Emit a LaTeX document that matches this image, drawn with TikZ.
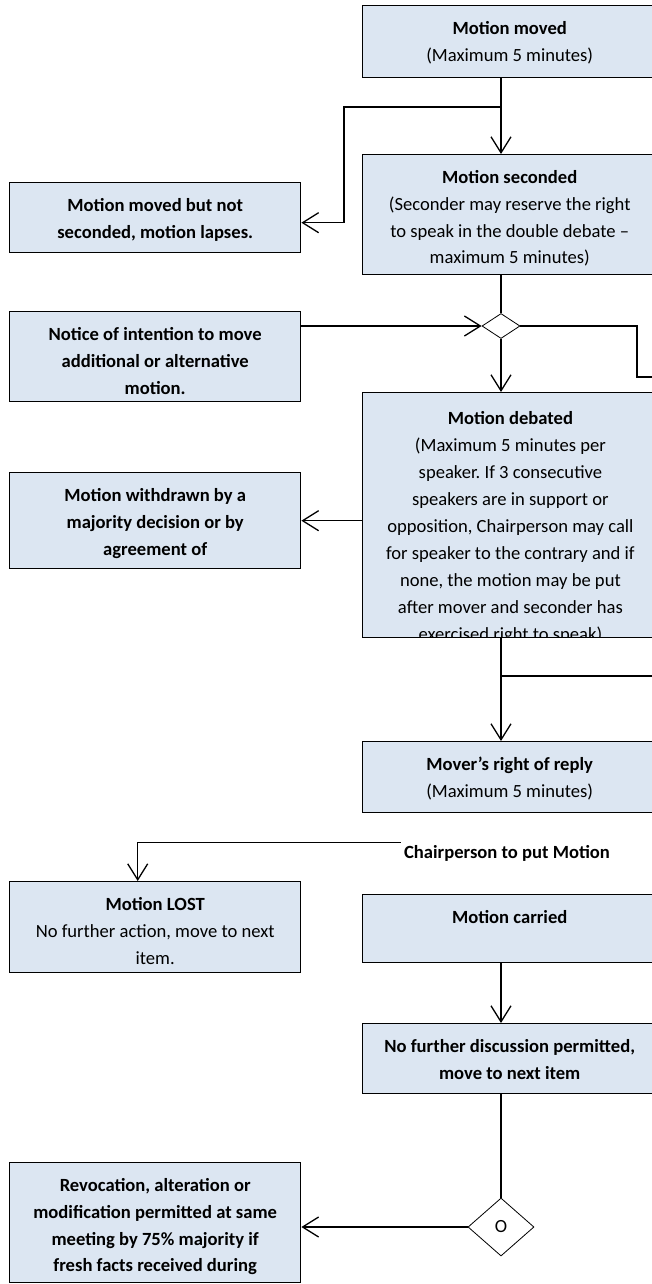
\documentclass[tikz,border=0pt]{standalone}
\usepackage{fontspec}
\setmainfont{Carlito}
\usetikzlibrary{arrows.meta,shapes.geometric}
\definecolor{boxblue}{RGB}{220,230,242}
\frenchspacing
\newcommand{\flowfont}{\fontsize{18.6}{26.7}\selectfont}
% text set from the top of a box of given size
\newcommand{\boxtext}[4][29pt]{\parbox[c][#3][t]{#2}{\centering\rule{0pt}{#1}#4}}
\tikzset{
  >={Straight Barb[length=16pt,width=20pt]},
}
\tikzstyle{every node}=[font=\flowfont]
\tikzstyle{box}=[draw,fill=boxblue,line width=1.4pt,inner sep=0pt,anchor=north west]
\tikzstyle{choice}=[draw,diamond,fill=white,line width=0.8pt,inner sep=0pt]
\tikzstyle{link}=[line width=1.3pt]

\begin{document}
\begin{tikzpicture}[x=1pt,y=-1pt]
    \useasboundingbox (0,0) rectangle (652,1284);
    \clip (0,0) rectangle (652,1284);

    % right column
    \node[box] (moved) at (362,5)
    {\boxtext{294pt}{72pt}{\textbf{Motion moved}\\(Maximum 5 minutes)}};
    \node[box] (seconded) at (362,154)
    {\boxtext{294pt}{120pt}{\textbf{Motion seconded}\\(Seconder may reserve the right\\to speak in the double debate --\\maximum 5 minutes)}};
    \node[choice,minimum width=38pt,minimum height=25pt] (dec1) at (501,326) {};
    \node[box,minimum width=294pt,minimum height=245pt,
      path picture={\node[anchor=north west,inner sep=0pt,font=\fontsize{18.6}{27}\selectfont]
      at (path picture bounding box.north west)
      {\boxtext[31pt]{294pt}{245pt}{\textbf{Motion debated}\\(Maximum 5 minutes per\\speaker. If 3 consecutive\\speakers are in support or\\opposition, Chairperson may call\\for speaker to the contrary and if\\none, the motion may be put\\after mover and seconder has\\exercised right to speak)}};}]
    (debated) at (362,392) {};
    \node[box] (mover) at (362,741)
    {\boxtext{294pt}{71pt}{\textbf{Mover’s right of reply}\\(Maximum 5 minutes)}};
    \node (chair) at (507,853) {\bfseries Chairperson to put Motion};
    \node[box] (carried) at (362,894)
    {\boxtext{294pt}{68pt}{\bfseries Motion carried}};
    \node[box] (nofurther) at (362,1023)
    {\boxtext{294pt}{70pt}{\bfseries No further discussion permitted,\\move to next item}};
    \node[choice,minimum width=66pt,minimum height=58pt] (dec2) at (501,1227) {O};

    % left column
    \node[box] (notseconded) at (9,182)
    {\boxtext{291pt}{70pt}{\bfseries Motion moved but not\\seconded, motion lapses.}};
    \node[box] (notice) at (9,311)
    {\boxtext{291pt}{90pt}{\bfseries Notice of intention to move\\additional or alternative\\motion.}};
    \node[box] (withdrawn) at (9,472)
    {\boxtext{291pt}{96pt}{\bfseries Motion withdrawn by a\\majority decision or by\\agreement of}};
    \node[box] (lost) at (9,881)
    {\boxtext{291pt}{91pt}{\textbf{Motion LOST}\\No further action, move to next\\item.}};
    \node[box] (revocation) at (9,1162)
    {\boxtext{291pt}{120pt}{\bfseries Revocation, alteration or\\modification permitted at same\\meeting by 75\% majority if\\fresh facts received during}};

    \coordinate (spine) at (501,0);
    \coordinate (split1) at (501,107);
    \coordinate (split2) at (501,676);
    \coordinate (offA) at (660,377);
    \coordinate (offB) at (660,676);

    \draw[link,->] (moved.south -| spine) -- (seconded.north -| spine);
    \draw[link,->] (split1) -- (344,107) |- ([yshift=-5pt]notseconded.east);
    \draw[link] (seconded.south -| spine) -- (dec1.north);
    \draw[link,->] (notice.east |- dec1.west) -- (dec1.west);
    \draw[link] (dec1.east) -| (637,377) -- (offA);
    \draw[link,->] (dec1.south) -- (debated.north -| spine);
    \draw[link,->] (debated.west |- withdrawn.east) -- (withdrawn.east);
    \draw[link,->] (debated.south -| spine) -- (mover.north -| spine);
    \draw[link] (split2) -- (offB);
    \draw[link,->] ([yshift=10.5pt]chair.west) -| ([xshift=-17.5pt]lost.north);
    \draw[link,->] (carried.south -| spine) -- (nofurther.north -| spine);
    \draw[link] (nofurther.south -| spine) -- (dec2.north);
    \draw[link,->] (dec2.west) -- (revocation.east |- dec2.west);
\end{tikzpicture}
\end{document}
